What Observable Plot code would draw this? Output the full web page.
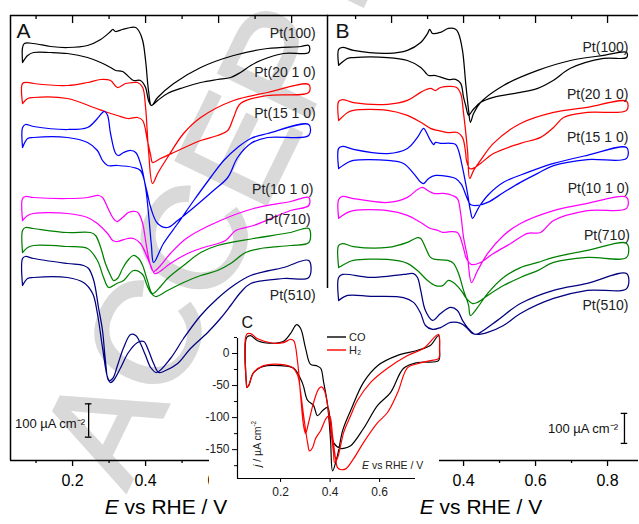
<!DOCTYPE html>
<html><head><meta charset="utf-8">
<script src="https://cdn.jsdelivr.net/npm/d3@7"></script>
<script src="https://cdn.jsdelivr.net/npm/@observablehq/plot@0.6"></script>
<style>
body{margin:0;background:#fff;}
#fig{position:relative;width:639px;height:524px;overflow:hidden;background:#fff;font-family:"Liberation Sans",Arial,sans-serif;color:#000}
#fig > *{position:absolute}
.xt{font-size:21px;text-align:center;width:140px;line-height:21px;white-space:nowrap}
.small{font-size:10.5px;line-height:11px;white-space:nowrap;color:#222}
sup{font-size:60%;vertical-align:5px}
</style></head><body><div id="fig"></div>
<script>
// ---------- Panel A: E (V vs RHE) and stacked current density j (µA cm^-2) ----------
const A_Pt100 = [[0.063,1194],[0.063,1239],[0.068,1251],[0.093,1251],[0.140,1242],[0.186,1239],[0.241,1245],[0.277,1263],[0.304,1287],[0.310,1293],[0.318,1287],[0.337,1293],[0.359,1299],[0.373,1299],[0.381,1290],[0.392,1260],[0.400,1200],[0.408,1110],[0.416,1065],[0.433,1089],[0.477,1131],[0.551,1179],[0.641,1215],[0.734,1236],[0.825,1242],[0.847,1245],[0.847,1224],[0.778,1221],[0.715,1200],[0.688,1185],[0.660,1164],[0.633,1149],[0.597,1143],[0.551,1134],[0.504,1119],[0.460,1101],[0.433,1080],[0.416,1065],[0.408,1080],[0.400,1119],[0.386,1140],[0.367,1140],[0.337,1167],[0.318,1170],[0.304,1179],[0.277,1194],[0.241,1209],[0.186,1221],[0.140,1224],[0.093,1224],[0.077,1215],[0.063,1194]];
const A_Pt2010 = [[0.063,1071],[0.063,1131],[0.077,1134],[0.093,1131],[0.186,1125],[0.241,1134],[0.277,1143],[0.304,1140],[0.323,1119],[0.345,1131],[0.367,1134],[0.378,1134],[0.392,1119],[0.400,1059],[0.408,930],[0.419,831],[0.433,861],[0.460,909],[0.504,981],[0.551,1029],[0.641,1080],[0.734,1104],[0.847,1128],[0.847,1104],[0.734,1095],[0.660,1071],[0.641,1029],[0.625,990],[0.597,975],[0.551,960],[0.477,924],[0.441,906],[0.419,894],[0.414,915],[0.405,960],[0.392,1020],[0.378,1029],[0.351,1026],[0.323,1035],[0.296,1044],[0.258,1059],[0.186,1086],[0.093,1089],[0.077,1086],[0.063,1071]];
const A_Pt1510 = [[0.063,939],[0.063,999],[0.071,1008],[0.093,1002],[0.186,993],[0.241,999],[0.268,1026],[0.282,1044],[0.288,1047],[0.296,1035],[0.304,981],[0.318,921],[0.326,915],[0.340,924],[0.359,930],[0.373,924],[0.386,891],[0.400,819],[0.408,741],[0.416,645],[0.422,594],[0.449,651],[0.488,711],[0.532,780],[0.578,849],[0.614,900],[0.652,939],[0.688,966],[0.734,981],[0.847,1008],[0.847,975],[0.734,969],[0.688,951],[0.652,909],[0.625,849],[0.586,810],[0.532,759],[0.488,720],[0.460,699],[0.433,711],[0.414,759],[0.403,810],[0.386,870],[0.367,879],[0.323,885],[0.296,885],[0.282,900],[0.268,930],[0.241,954],[0.186,969],[0.093,969],[0.077,966],[0.063,939]];
const A_Pt1010 = [[0.063,720],[0.063,786],[0.071,792],[0.093,789],[0.186,786],[0.241,789],[0.271,795],[0.282,789],[0.296,759],[0.310,729],[0.321,717],[0.337,729],[0.353,744],[0.373,747],[0.381,741],[0.392,711],[0.400,660],[0.408,609],[0.416,576],[0.422,567],[0.441,585],[0.468,621],[0.515,669],[0.605,720],[0.696,756],[0.797,777],[0.847,789],[0.847,765],[0.797,750],[0.696,705],[0.647,690],[0.619,660],[0.559,639],[0.515,621],[0.468,591],[0.435,564],[0.425,561],[0.414,585],[0.405,609],[0.386,651],[0.367,666],[0.351,666],[0.323,657],[0.310,660],[0.296,681],[0.268,711],[0.241,729],[0.186,741],[0.093,741],[0.077,735],[0.063,720]];
const A_Pt710 = [[0.063,624],[0.063,690],[0.071,699],[0.093,696],[0.186,684],[0.249,684],[0.263,675],[0.277,639],[0.290,591],[0.304,555],[0.312,540],[0.323,546],[0.337,576],[0.351,600],[0.367,615],[0.381,606],[0.392,585],[0.405,540],[0.419,501],[0.441,522],[0.460,546],[0.504,585],[0.551,624],[0.597,645],[0.696,666],[0.797,684],[0.847,696],[0.847,654],[0.797,645],[0.715,636],[0.674,624],[0.633,591],[0.597,570],[0.551,555],[0.504,534],[0.460,510],[0.427,492],[0.414,504],[0.403,528],[0.392,558],[0.367,570],[0.340,540],[0.321,531],[0.299,519],[0.285,549],[0.268,600],[0.241,636],[0.186,642],[0.093,645],[0.077,639],[0.063,624]];
const A_Pt510 = [[0.063,525],[0.063,606],[0.071,612],[0.093,606],[0.186,591],[0.230,585],[0.244,576],[0.258,540],[0.271,459],[0.282,390],[0.290,300],[0.299,240],[0.310,246],[0.323,285],[0.340,339],[0.359,378],[0.373,375],[0.386,351],[0.400,315],[0.414,279],[0.430,264],[0.468,306],[0.504,366],[0.551,435],[0.597,486],[0.641,525],[0.688,555],[0.778,579],[0.847,600],[0.847,549],[0.778,546],[0.688,531],[0.660,504],[0.633,465],[0.605,426],[0.570,384],[0.523,336],[0.488,291],[0.449,267],[0.436,264],[0.422,291],[0.408,330],[0.395,357],[0.378,354],[0.353,324],[0.332,279],[0.312,240],[0.304,234],[0.296,249],[0.282,339],[0.268,441],[0.255,501],[0.230,534],[0.186,549],[0.093,549],[0.077,546],[0.063,525]];

// ---------- Panel B ----------
const B_Pt100 = [[0.053,1317],[0.053,1370],[0.064,1377],[0.094,1367],[0.189,1357],[0.244,1367],[0.281,1393],[0.300,1423],[0.306,1437],[0.314,1423],[0.336,1427],[0.358,1440],[0.378,1437],[0.386,1423],[0.397,1367],[0.406,1257],[0.414,1167],[0.419,1127],[0.428,1157],[0.447,1193],[0.511,1250],[0.606,1300],[0.697,1333],[0.789,1350],[0.853,1360],[0.853,1343],[0.789,1340],[0.697,1307],[0.650,1267],[0.606,1240],[0.558,1227],[0.483,1210],[0.447,1193],[0.425,1167],[0.414,1150],[0.406,1183],[0.400,1210],[0.392,1257],[0.378,1270],[0.356,1270],[0.322,1283],[0.303,1283],[0.294,1293],[0.281,1310],[0.244,1333],[0.189,1343],[0.094,1343],[0.078,1340],[0.053,1317]];
const B_Pt2010 = [[0.053,1133],[0.053,1197],[0.064,1203],[0.094,1193],[0.189,1187],[0.244,1200],[0.281,1227],[0.308,1240],[0.322,1233],[0.336,1243],[0.364,1247],[0.381,1243],[0.392,1223],[0.400,1157],[0.411,1033],[0.417,940],[0.428,967],[0.447,1000],[0.483,1057],[0.558,1123],[0.650,1160],[0.744,1177],[0.853,1197],[0.853,1167],[0.744,1160],[0.678,1143],[0.650,1110],[0.614,1077],[0.558,1057],[0.483,1023],[0.447,990],[0.425,973],[0.417,973],[0.408,1000],[0.406,1023],[0.397,1077],[0.383,1093],[0.356,1093],[0.328,1100],[0.308,1107],[0.281,1127],[0.244,1150],[0.189,1167],[0.094,1167],[0.078,1160],[0.053,1133]];
const B_Pt1510 = [[0.053,973],[0.053,1040],[0.064,1047],[0.094,1037],[0.189,1023],[0.244,1040],[0.272,1077],[0.289,1107],[0.297,1093],[0.308,1067],[0.317,1053],[0.322,1060],[0.336,1057],[0.364,1057],[0.378,1053],[0.386,1033],[0.397,977],[0.411,890],[0.419,833],[0.425,807],[0.442,843],[0.467,883],[0.511,927],[0.578,960],[0.650,990],[0.744,1017],[0.853,1043],[0.853,1007],[0.744,1003],[0.650,983],[0.606,957],[0.558,927],[0.511,893],[0.467,860],[0.439,850],[0.419,853],[0.408,880],[0.394,920],[0.378,940],[0.356,947],[0.322,950],[0.303,940],[0.289,923],[0.281,927],[0.261,957],[0.233,990],[0.189,1000],[0.094,1000],[0.078,993],[0.053,973]];
const B_Pt1010 = [[0.053,807],[0.053,870],[0.064,880],[0.094,873],[0.189,860],[0.244,877],[0.272,903],[0.286,910],[0.300,900],[0.317,890],[0.344,890],[0.369,883],[0.383,873],[0.392,823],[0.400,743],[0.411,677],[0.422,593],[0.439,633],[0.467,690],[0.511,750],[0.558,790],[0.650,833],[0.744,857],[0.853,877],[0.853,840],[0.744,833],[0.650,800],[0.614,760],[0.578,757],[0.531,723],[0.483,690],[0.447,660],[0.422,653],[0.408,673],[0.400,707],[0.392,740],[0.383,760],[0.364,763],[0.342,760],[0.328,767],[0.308,773],[0.281,793],[0.244,817],[0.189,833],[0.094,833],[0.078,827],[0.053,807]];
const B_Pt710 = [[0.053,643],[0.053,717],[0.064,723],[0.094,713],[0.189,710],[0.244,727],[0.272,743],[0.281,740],[0.294,710],[0.308,677],[0.322,670],[0.356,667],[0.372,657],[0.386,623],[0.400,567],[0.414,517],[0.419,483],[0.439,510],[0.467,557],[0.511,610],[0.558,643],[0.606,660],[0.650,677],[0.744,700],[0.853,723],[0.853,677],[0.744,677],[0.650,660],[0.606,633],[0.558,610],[0.511,583],[0.467,550],[0.439,527],[0.425,523],[0.408,540],[0.397,560],[0.386,577],[0.372,593],[0.358,600],[0.342,583],[0.322,583],[0.300,600],[0.272,633],[0.244,657],[0.189,670],[0.094,667],[0.078,660],[0.053,643]];
const B_Pt510 = [[0.053,533],[0.053,610],[0.064,620],[0.142,610],[0.233,620],[0.261,623],[0.272,610],[0.281,567],[0.294,500],[0.314,467],[0.336,490],[0.364,510],[0.383,500],[0.397,467],[0.411,443],[0.433,420],[0.447,427],[0.494,467],[0.558,523],[0.650,567],[0.744,590],[0.853,623],[0.853,573],[0.744,567],[0.650,540],[0.558,490],[0.511,450],[0.467,427],[0.439,420],[0.425,423],[0.411,440],[0.392,457],[0.364,460],[0.336,443],[0.314,437],[0.294,450],[0.281,490],[0.261,527],[0.233,543],[0.142,547],[0.078,550],[0.053,533]];

// ---------- Inset C: Pt(510), j in µA cm^-2 ----------
const C_CO = [[0.063,-53],[0.063,25],[0.079,28],[0.107,20],[0.172,16],[0.212,19],[0.240,31],[0.265,45],[0.281,39],[0.301,8],[0.321,-17],[0.345,-19],[0.362,-23],[0.374,-45],[0.390,-81],[0.402,-136],[0.410,-183],[0.430,-159],[0.451,-120],[0.483,-89],[0.535,-45],[0.592,-19],[0.673,-3],[0.754,5],[0.806,13],[0.838,28],[0.842,5],[0.838,-11],[0.754,-14],[0.697,-23],[0.644,-61],[0.592,-81],[0.535,-117],[0.483,-144],[0.455,-148],[0.442,-148],[0.414,-139],[0.398,-97],[0.390,-84],[0.370,-89],[0.349,-97],[0.333,-81],[0.309,-73],[0.289,-47],[0.253,-23],[0.200,-19],[0.131,-20],[0.091,-30],[0.071,-50],[0.063,-53]];
const C_H2 = [[0.063,-53],[0.063,30],[0.079,31],[0.107,23],[0.172,16],[0.212,17],[0.240,22],[0.253,20],[0.269,-14],[0.281,-66],[0.293,-113],[0.301,-125],[0.313,-108],[0.333,-77],[0.354,-55],[0.366,-52],[0.378,-59],[0.390,-81],[0.402,-117],[0.414,-155],[0.418,-170],[0.430,-163],[0.455,-123],[0.483,-97],[0.511,-73],[0.564,-45],[0.632,-23],[0.713,-3],[0.778,8],[0.838,30],[0.842,11],[0.838,-8],[0.806,-11],[0.754,-16],[0.713,-22],[0.673,-61],[0.632,-92],[0.592,-108],[0.535,-139],[0.495,-164],[0.463,-180],[0.442,-181],[0.430,-178],[0.422,-164],[0.410,-128],[0.398,-97],[0.386,-100],[0.362,-120],[0.341,-133],[0.329,-147],[0.317,-152],[0.309,-139],[0.293,-97],[0.281,-61],[0.269,-34],[0.248,-22],[0.200,-17],[0.131,-19],[0.091,-30],[0.071,-50],[0.063,-53]];

// ---------- labels, ticks, scale bars ----------
const curveNames = ["Pt(100)","Pt(20 1 0)","Pt(15 1 0)","Pt(10 1 0)","Pt(710)","Pt(510)"];
const labelA_E = [0.866,0.866,0.866,0.860,0.852,0.866];
const labelA_j = [1281,1164,1041,813,723,495];
const labelB_E = [0.858,0.858,0.858,0.860,0.862,0.858];
const labelB_j = [1377,1220,1077,907,750,517];
const ticksMajor = [0.2,0.4,0.6,0.8];
const ticksMinor = [0.1,0.3,0.5,0.7];
const tickLabelsA = [0.2,0.4,0.6];      // 0.8 label lies under the inset
const tickLabelsB = [0.4,0.6,0.8];      // 0.2 label lies under the inset
const insetYMajor = [0,-50,-100,-150];
const insetYMinor = [25,-25,-75,-125,-175];
const insetXMajor = [0.2,0.4,0.6];
const scaleBarA = [0.244, 70, 170];   // E, j from, j to (100 µA cm^-2)
const scaleBarB = [0.847, 57, 157];
const scaleTextA = [0.234, 111];
const scaleTextB = [0.829, 107];
const legendNames = ["CO","H₂"];

const xDomA = [0.030, 0.901], yDomA = [0, 1335];
const xDomB = [0.022, 0.886], yDomB = [0, 1483], bLeftFrameFrom = 573;
const xDomC = [0.026, 0.745], yDomC = [-195, 23.4];

const FONT = '"Liberation Sans", Arial, sans-serif';
const colors = ["#000000","#ff0000","#0000ff","#ff00ff","#008000","#000080"];
const seriesA = [A_Pt100, A_Pt2010, A_Pt1510, A_Pt1010, A_Pt710, A_Pt510];
const seriesB = [B_Pt100, B_Pt2010, B_Pt1510, B_Pt1010, B_Pt710, B_Pt510];
const style = {background: "transparent", fontFamily: FONT, color: "#000", overflow: "visible"};

function curveMarks(series) {
  return series.map((s, i) => Plot.line(s, {x: d => d[0], y: d => d[1], stroke: colors[i], strokeWidth: 1.25, curve: "catmull-rom"}));
}
function scaleBar(bar, txt) {
  const cap = 0.009;
  return [
    Plot.ruleX([bar], {x: d => d[0], y1: d => d[1], y2: d => d[2], stroke: "#000", strokeWidth: 1.3}),
    Plot.ruleY([bar[1], bar[2]], {y: d => d, x1: bar[0] - cap, x2: bar[0] + cap, stroke: "#000", strokeWidth: 1.3}),
    Plot.text([txt], {x: d => d[0], y: d => d[1], text: () => "100 µA cm⁻²", textAnchor: "end", fontSize: 13, fill: "#111"})
  ];
}
function frameTicks(plotH, labelled) {
  return [
    Plot.tickX(ticksMajor, {x: d => d, insetBottom: plotH - 8, stroke: "#000", strokeWidth: 1.3}),
    Plot.tickX(ticksMinor, {x: d => d, insetBottom: plotH - 4, stroke: "#000", strokeWidth: 1.3}),
    Plot.axisX(ticksMajor, {anchor: "bottom", tickSize: 6, tickFormat: () => "", strokeWidth: 1.3, label: null}),
    Plot.axisX(labelled, {anchor: "bottom", tickSize: 0, tickPadding: 14, tickFormat: d3.format(".1f"), fontSize: 16, label: null}),
    Plot.axisX(ticksMinor, {anchor: "bottom", tickSize: 3, tickFormat: () => "", strokeWidth: 1.3, label: null})
  ];
}

const plotA = Plot.plot({
  width: 330, height: 490, marginLeft: 10, marginRight: 2, marginTop: 15, marginBottom: 30,
  x: {domain: xDomA, axis: null}, y: {domain: yDomA, axis: null}, style,
  marks: [
    Plot.ruleY([yDomA[1]], {stroke: "#000", strokeWidth: 1.5}),
    Plot.ruleY([yDomA[0]], {stroke: "#000", strokeWidth: 1.5}),
    Plot.ruleX([xDomA[0]], {stroke: "#000", strokeWidth: 1.5}),
    ...frameTicks(445, tickLabelsA),
    ...curveMarks(seriesA),
    Plot.text(curveNames, {x: (d, i) => labelA_E[i], y: (d, i) => labelA_j[i], text: d => d, textAnchor: "end", fontSize: 14, fill: "#222"}),
    Plot.text(["A"], {frameAnchor: "top-left", dx: 6, dy: 8, fontSize: 21, fill: "#111"}),
    ...scaleBar(scaleBarA, scaleTextA)
  ]
});

const plotB = Plot.plot({
  width: 319, height: 490, marginLeft: 7, marginRight: 1, marginTop: 15, marginBottom: 30,
  x: {domain: xDomB, axis: null}, y: {domain: yDomB, axis: null}, style,
  marks: [
    Plot.ruleY([yDomB[1]], {stroke: "#000", strokeWidth: 1.5}),
    Plot.ruleY([yDomB[0]], {stroke: "#000", strokeWidth: 1.5}),
    Plot.ruleX([xDomB[0]], {y1: bLeftFrameFrom, y2: yDomB[1], stroke: "#000", strokeWidth: 1.5}),
    ...frameTicks(445, tickLabelsB),
    ...curveMarks(seriesB),
    Plot.text(curveNames, {x: (d, i) => labelB_E[i], y: (d, i) => labelB_j[i], text: d => d, textAnchor: "end", fontSize: 14, fill: "#222"}),
    Plot.text(["B"], {frameAnchor: "top-left", dx: 8, dy: 8, fontSize: 21, fill: "#111"}),
    ...scaleBar(scaleBarB, scaleTextB)
  ]
});

const plotC = Plot.plot({
  width: 231, height: 235, marginLeft: 29, marginRight: 24, marginTop: 49, marginBottom: 46,
  x: {domain: xDomC, axis: null}, y: {domain: yDomC, axis: null}, style,
  marks: [
    Plot.ruleX([xDomC[0]], {stroke: "#000", strokeWidth: 1.2}),
    Plot.ruleY([yDomC[0]], {stroke: "#000", strokeWidth: 1.2}),
    Plot.axisY(insetYMajor, {anchor: "left", tickSize: 5, tickPadding: 3, tickFormat: d => String(d), fontSize: 12, fill: "#222", label: null}),
    Plot.axisY(insetYMinor, {anchor: "left", tickSize: 3, tickFormat: () => "", label: null}),
    Plot.axisX(insetXMajor, {anchor: "bottom", tickSize: 4, tickPadding: 5, tickFormat: d3.format(".1f"), fontSize: 12, fill: "#222", label: null}),
    Plot.line(C_CO, {x: d => d[0], y: d => d[1], stroke: "#000", strokeWidth: 1.2, curve: "catmull-rom"}),
    Plot.line(C_H2, {x: d => d[0], y: d => d[1], stroke: "#ff0000", strokeWidth: 1.2, curve: "catmull-rom"}),
    Plot.text(["C"], {frameAnchor: "top-left", dx: 4, dy: -22, fontSize: 16, fill: "#111"})
  ]
});

const fig = document.getElementById("fig");
// watermark (behind everything)
const wm = document.createElementNS("http://www.w3.org/2000/svg", "svg");
wm.setAttribute("width", 639); wm.setAttribute("height", 524);
wm.style.left = "0px"; wm.style.top = "0px";
wm.innerHTML = '<text x="126" y="492" transform="rotate(-64 126 492)" font-family=\'"Liberation Sans",Arial,sans-serif\' font-size="146" fill="#d9d9d9" stroke="#d9d9d9" stroke-width="3">ACCEPTED</text>';
fig.appendChild(wm);

function place(node, left, top) { node.style.position = "absolute"; node.style.left = left + "px"; node.style.top = top + "px"; fig.appendChild(node); return node; }
place(plotA, 0, 0);
place(plotB, 320, 0);
const white = document.createElement("div");
white.style.cssText = "background:#fff;width:230px;height:188px";
place(white, 209, 336);
place(plotC, 208, 289);

function html(h, cls, left, top, extra) { const d = document.createElement("div"); d.className = cls; d.innerHTML = h; if (extra) d.style.cssText = extra; place(d, left, top); return d; }
html("<i>E</i> vs RHE / V", "xt", 96, 496);
html("<i>E</i> vs RHE / V", "xt", 411, 496);
html("<i>E</i> vs RHE / V", "small", 362, 460);
const yl = html("<i>j</i> / µA cm<sup>-2</sup>", "small", 0, 0);
yl.style.transformOrigin = "0 0";
yl.style.transform = "translate(248px,467px) rotate(-90deg)";
// legend
const leg = document.createElementNS("http://www.w3.org/2000/svg", "svg");
leg.setAttribute("width", 50); leg.setAttribute("height", 26);
leg.innerHTML = legendNames.map((n, i) => `<line x1="0" x2="19" y1="${5 + i * 13}" y2="${5 + i * 13}" stroke="${i ? '#ff0000' : '#000'}" stroke-width="1.4"/>` +
  `<text x="22" y="${5 + i * 13}" dy="0.35em" font-size="11" font-family='"Liberation Sans",Arial,sans-serif' fill="#222">${n}</text>`).join("");
place(leg, 327, 332);
</script></body></html>
